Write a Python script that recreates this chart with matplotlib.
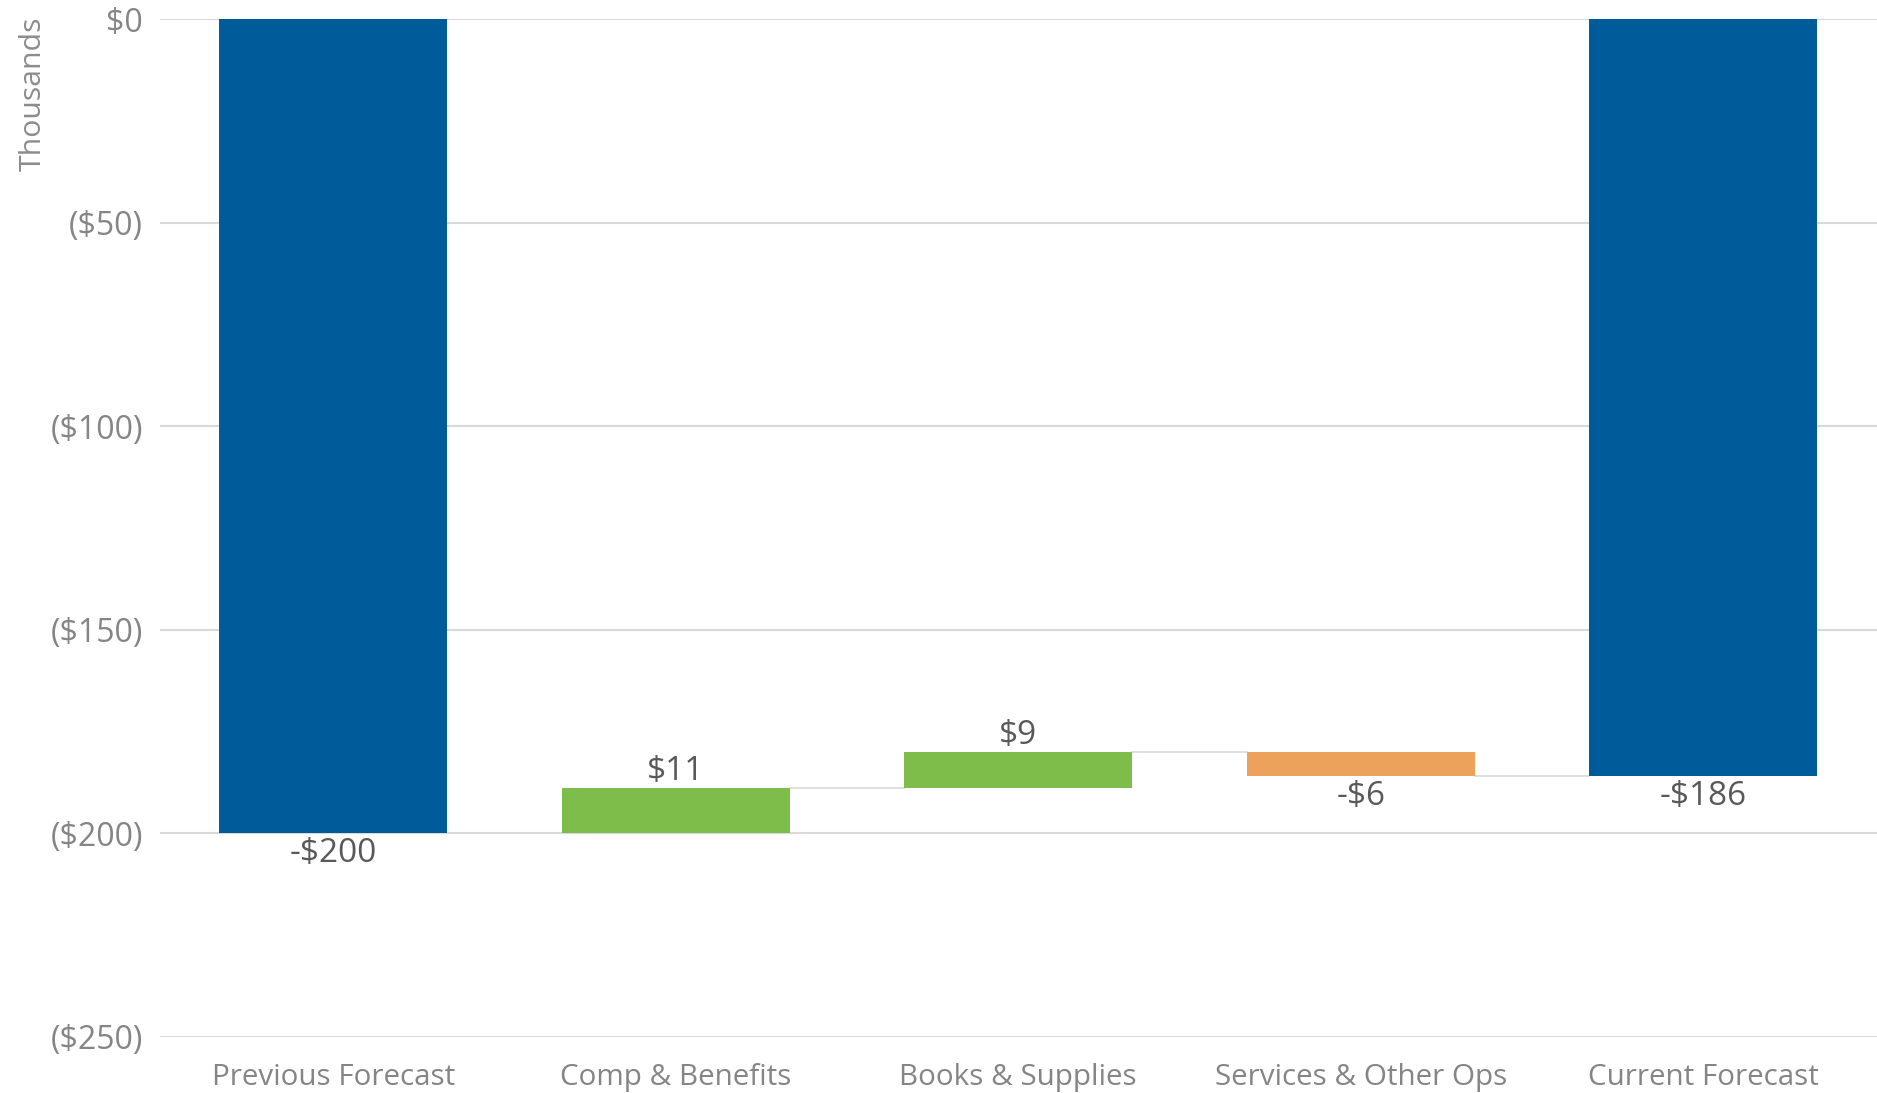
import matplotlib
matplotlib.use("Agg")
import matplotlib.pyplot as plt
from matplotlib.ticker import FuncFormatter, MultipleLocator

# waterfall data (thousands of dollars)
categories = ["Previous Forecast", "Comp & Benefits", "Books & Supplies",
              "Services & Other Ops", "Current Forecast"]
changes = [-200, 11, 9, -6, -186]
is_total = [True, False, False, False, True]

BLUE = "#005B9A"
GREEN = "#7DBE4A"
ORANGE = "#EDA25B"
GRID = "#D9D9D9"
TICK_GRAY = "#858585"
LABEL_GRAY = "#595959"

plt.rcParams["font.family"] = ["Open Sans", "DejaVu Sans"]

fig = plt.figure(figsize=(18.77, 10.93), dpi=100)
ax = fig.add_axes([0.085, 0.0515, 0.915, 0.931])

# compute bar bottoms/heights from running total
bottoms, heights, colors, ends = [], [], [], []
running = 0
for val, tot in zip(changes, is_total):
    if tot:
        start, end = 0, val
        colors.append(BLUE)
    else:
        start, end = running, running + val
        colors.append(GREEN if val >= 0 else ORANGE)
    bottoms.append(min(start, end))
    heights.append(abs(end - start))
    ends.append(end)
    running = end

x = list(range(len(categories)))
width = 0.665
ax.bar(x, heights, bottom=bottoms, width=width, color=colors, zorder=3)

# connector lines between consecutive bars
for i in range(len(x) - 1):
    ax.plot([x[i] + width / 2, x[i + 1] - width / 2], [ends[i], ends[i]],
            color=GRID, lw=1.2, zorder=2)

# data labels
for i, (val, tot) in enumerate(zip(changes, is_total)):
    text = f"-${abs(val)}" if val < 0 else f"${val}"
    if val < 0:
        y = bottoms[i]
        ax.annotate(text, (x[i], y), xytext=(0, -2.5), textcoords="offset points",
                    ha="center", va="top", fontsize=24, color=LABEL_GRAY)
    else:
        y = bottoms[i] + heights[i]
        ax.annotate(text, (x[i], y), xytext=(0, 0), textcoords="offset points",
                    ha="center", va="bottom", fontsize=24, color=LABEL_GRAY)

ax.set_xlim(-0.507, len(categories) - 0.493)
ax.set_ylim(-250, 0)
ax.yaxis.set_major_locator(MultipleLocator(50))
ax.yaxis.set_major_formatter(
    FuncFormatter(lambda v, _: "$0" if v == 0 else f"(${abs(v):.0f})"))
ax.grid(axis="y", color=GRID, lw=1.5, zorder=0)
ax.set_axisbelow(True)

ax.set_xticks(x)
ax.set_xticklabels(categories)
ax.tick_params(axis="both", length=0, colors=TICK_GRAY)
ax.tick_params(axis="x", pad=19, labelsize=21.3)
ax.tick_params(axis="y", pad=12, labelsize=23)
for s in ax.spines.values():
    s.set_visible(False)

fig.text(0.0175, 0.985, "Thousands", rotation=90, ha="center", va="top",
         fontsize=21.8, color="#8C8C8C")

fig.savefig("out.png", dpi=100, facecolor="white")
